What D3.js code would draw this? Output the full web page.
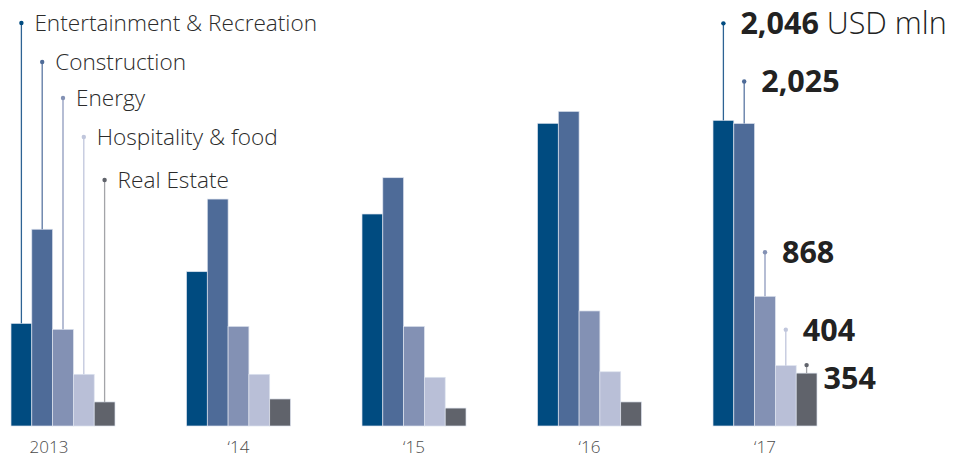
<!DOCTYPE html>
<html>
<head>
<meta charset="utf-8">
<script src="https://cdn.jsdelivr.net/npm/d3@7"></script>
<style>
  html, body { margin: 0; padding: 0; background: #fff; }
  svg { display: block; font-family: "Open Sans", "Noto Sans", sans-serif; }
</style>
</head>
<body>
<svg id="chart" width="975" height="459"></svg>
<script>
// Investment by sector, USD mln
const years = ["2013", "2014", "2015", "2016", "2017"];
const yearLabels = ["2013", "\u201814", "\u201815", "\u201816", "\u201817"];
const sectors = ["Entertainment & Recreation", "Construction", "Energy", "Hospitality & food", "Real Estate"];
const entertainment = [687, 1033, 1419, 2026, 2046];
const construction = [1317, 1519, 1662, 2106, 2025];
const energy = [647, 667, 667, 770, 868];
const hospitality = [346, 346, 326, 363, 404];
const realEstate = [161, 181, 120, 161, 354];
const unit = "USD mln";

const series = [entertainment, construction, energy, hospitality, realEstate];
const colors = ["#004b80", "#4e6b98", "#8391b4", "#b9bfd7", "#60636b"];
const lineColors = ["#2d6394", "#5b77a2", "#8e9abd", "#c0c6dc", "#a3a4a8"];
const dotColors = ["#004b80", "#4e6b98", "#8391b4", "#c0c6dc", "#60636b"];

const svg = d3.select("#chart");
const baseY = 426;

const y = d3.scaleLinear().domain([0, 2200]).range([baseY, baseY - 2200 * 0.1494]);
const x0 = d3.scaleBand().domain(years).range([11, 817]).paddingInner(0.4074).paddingOuter(0);
const x1 = d3.scaleBand().domain(sectors).range([0, x0.bandwidth()]).padding(0);

const rows = years.flatMap((yr, i) =>
  sectors.map((s, j) => ({ year: yr, sector: s, si: j, yi: i, value: series[j][i] })));

// bars
svg.append("g").selectAll("rect").data(rows).join("rect")
  .attr("x", d => x0(d.year) + x1(d.sector))
  .attr("y", d => y(d.value))
  .attr("width", x1.bandwidth())
  .attr("height", d => baseY - y(d.value))
  .attr("fill", d => colors[d.si])
  .attr("stroke", "#dde3ee")
  .attr("stroke-width", 0.7);

// year labels
const yearOffset = [-14, 0, 0, 0, 0];
svg.append("g").selectAll("text").data(years).join("text")
  .attr("x", (d, i) => x0(d) + x0.bandwidth() / 2 + yearOffset[i])
  .attr("y", 453)
  .attr("text-anchor", "middle")
  .attr("font-size", 17)
  .attr("font-weight", 300)
  .attr("fill", "#4a4a4a")
  .text((d, i) => yearLabels[i]);

// sector legend with leader lines on the first group
const legendY = [23, 62, 98, 137, 180];
const firstYear = years[0];
const legend = svg.append("g");
sectors.forEach((s, j) => {
  const cx = x0(firstYear) + x1(s) + x1.bandwidth() / 2;
  legend.append("line")
    .attr("x1", cx).attr("x2", cx)
    .attr("y1", legendY[j]).attr("y2", y(series[j][0]))
    .attr("stroke", lineColors[j]).attr("stroke-width", 1.3);
  legend.append("circle")
    .attr("cx", cx).attr("cy", legendY[j]).attr("r", 2.2)
    .attr("fill", dotColors[j]);
  legend.append("text")
    .attr("x", cx + 13).attr("y", legendY[j])
    .attr("dy", "0.36em")
    .attr("font-size", 22.6)
    .attr("font-weight", 300)
    .attr("fill", "#2b2b2b")
    .text(s);
});

// value callouts on the last group
const lastYear = years[years.length - 1];
const lastIdx = years.length - 1;
const lift = [97, 42, 44, 36, 8];
const textShift = [0, 0, 0, 0, 13];
const fmt = d3.format(",");
const callouts = svg.append("g");
sectors.forEach((s, j) => {
  const v = series[j][lastIdx];
  const cx = x0(lastYear) + x1(s) + x1.bandwidth() / 2;
  const top = y(v);
  const dy = top - lift[j];
  callouts.append("line")
    .attr("x1", cx).attr("x2", cx)
    .attr("y1", dy).attr("y2", top)
    .attr("stroke", lineColors[j]).attr("stroke-width", 1.3);
  callouts.append("circle")
    .attr("cx", cx).attr("cy", dy).attr("r", 2.2)
    .attr("fill", dotColors[j]);
  const t = callouts.append("text")
    .attr("x", cx + 17).attr("y", dy + textShift[j])
    .attr("dy", "0.36em")
    .attr("font-size", 30.5)
    .attr("fill", "#222");
  t.append("tspan").attr("font-weight", 700).text(fmt(v));
  if (j === 0) {
    t.append("tspan").attr("font-weight", 300).text(" " + unit);
  }
});
</script>
</body>
</html>
